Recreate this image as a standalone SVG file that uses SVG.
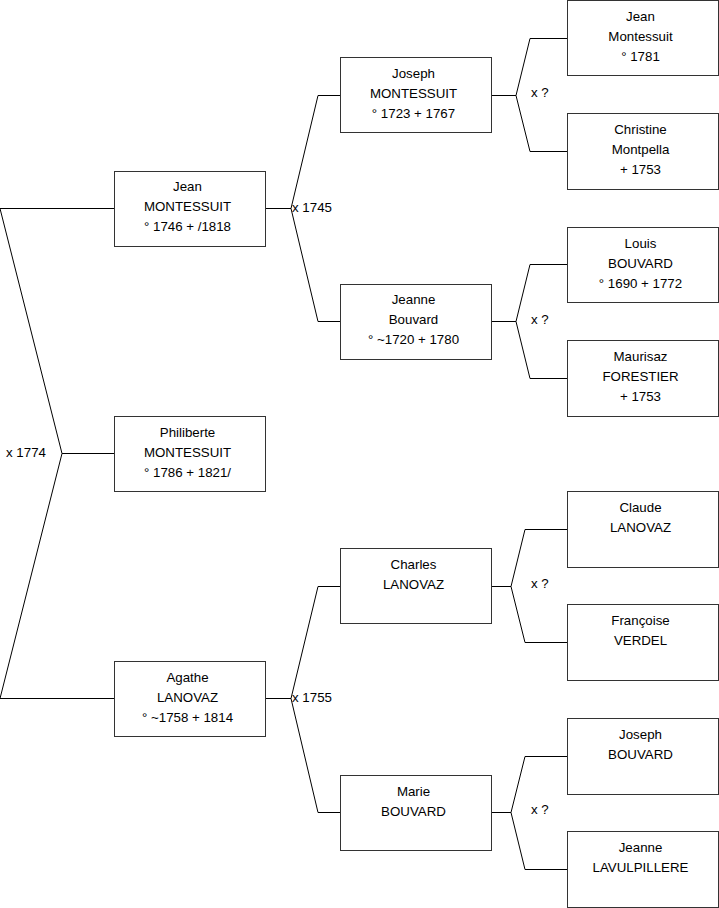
<svg xmlns="http://www.w3.org/2000/svg" width="719" height="908" viewBox="0 0 719 908">
<style>
.box{fill:#fff;stroke:#333;stroke-width:1}
.ln{fill:none;stroke:#000;stroke-width:1}
text{font-family:"Liberation Sans",Arial,sans-serif;font-size:13.3px;fill:#000}
.c{text-anchor:middle}
</style>
<rect width="719" height="908" fill="#fff"/>
<g id="connectors">
<polyline class="ln" points="114,208.5 0,208.5 62,453.5 0,698.5 114,698.5"/>
<line class="ln" x1="62" y1="453.5" x2="114" y2="453.5"/>
<polyline class="ln" points="265,208.5 291,208.5"/>
<polyline class="ln" points="340,95.5 318,95.5 291,208.5 318,321.5 340,321.5"/>
<polyline class="ln" points="265,698.5 291,698.5"/>
<polyline class="ln" points="340,586.5 318,586.5 291,698.5 318,812.5 340,812.5"/>
<polyline class="ln" points="491,95.5 516,95.5"/>
<polyline class="ln" points="567,38.5 530,38.5 516,95.5 530,151.5 567,151.5"/>
<polyline class="ln" points="491,321.5 516,321.5"/>
<polyline class="ln" points="567,264.5 530,264.5 516,321.5 530,378.5 567,378.5"/>
<polyline class="ln" points="491,586.5 511,586.5"/>
<polyline class="ln" points="567,529.5 525,529.5 511,586.5 525,642.5 567,642.5"/>
<polyline class="ln" points="491,812.5 511,812.5"/>
<polyline class="ln" points="567,756.5 525,756.5 511,812.5 525,869.5 567,869.5"/>
<text x="6" y="457">x 1774</text>
<text x="292" y="212">x 1745</text>
<text x="292" y="702">x 1755</text>
<text x="531" y="97">x ?</text>
<text x="531" y="324">x ?</text>
<text x="531" y="588">x ?</text>
<text x="531" y="814">x ?</text>
</g>
<g id="n-jean">
<rect class="box" x="114.5" y="171.5" width="151" height="75"/>
<text class="c" x="187.5" y="191">Jean</text>
<text class="c" x="187.5" y="211">MONTESSUIT</text>
<text class="c" x="187.5" y="231">° 1746 + /1818</text>
</g>
<g id="n-philiberte">
<rect class="box" x="114.5" y="416.5" width="151" height="75"/>
<text class="c" x="187.5" y="437">Philiberte</text>
<text class="c" x="187.5" y="457">MONTESSUIT</text>
<text class="c" x="187.5" y="477">° 1786 + 1821/</text>
</g>
<g id="n-agathe">
<rect class="box" x="114.5" y="661.5" width="151" height="75"/>
<text class="c" x="187.5" y="682">Agathe</text>
<text class="c" x="187.5" y="702">LANOVAZ</text>
<text class="c" x="187.5" y="722">° ~1758 + 1814</text>
</g>
<g id="n-joseph-m">
<rect class="box" x="340.5" y="57.5" width="151" height="75"/>
<text class="c" x="413.5" y="78">Joseph</text>
<text class="c" x="413.5" y="98">MONTESSUIT</text>
<text class="c" x="413.5" y="118">° 1723 + 1767</text>
</g>
<g id="n-jeanne-b">
<rect class="box" x="340.5" y="284.5" width="151" height="75"/>
<text class="c" x="413.5" y="304">Jeanne</text>
<text class="c" x="413.5" y="324">Bouvard</text>
<text class="c" x="413.5" y="344">° ~1720 + 1780</text>
</g>
<g id="n-charles">
<rect class="box" x="340.5" y="548.5" width="151" height="75"/>
<text class="c" x="413.5" y="569">Charles</text>
<text class="c" x="413.5" y="589">LANOVAZ</text>
</g>
<g id="n-marie">
<rect class="box" x="340.5" y="775.5" width="151" height="75"/>
<text class="c" x="413.5" y="796">Marie</text>
<text class="c" x="413.5" y="816">BOUVARD</text>
</g>
<g id="n-jean-m">
<rect class="box" x="567.5" y="0.5" width="151" height="75"/>
<text class="c" x="640.5" y="21">Jean</text>
<text class="c" x="640.5" y="41">Montessuit</text>
<text class="c" x="640.5" y="61">° 1781</text>
</g>
<g id="n-christine">
<rect class="box" x="567.5" y="113.5" width="151" height="76"/>
<text class="c" x="640.5" y="134">Christine</text>
<text class="c" x="640.5" y="154">Montpella</text>
<text class="c" x="640.5" y="174">+ 1753</text>
</g>
<g id="n-louis">
<rect class="box" x="567.5" y="227.5" width="151" height="75"/>
<text class="c" x="640.5" y="248">Louis</text>
<text class="c" x="640.5" y="268">BOUVARD</text>
<text class="c" x="640.5" y="288">° 1690 + 1772</text>
</g>
<g id="n-maurisaz">
<rect class="box" x="567.5" y="340.5" width="151" height="76"/>
<text class="c" x="640.5" y="361">Maurisaz</text>
<text class="c" x="640.5" y="381">FORESTIER</text>
<text class="c" x="640.5" y="401">+ 1753</text>
</g>
<g id="n-claude">
<rect class="box" x="567.5" y="491.5" width="151" height="76"/>
<text class="c" x="640.5" y="512">Claude</text>
<text class="c" x="640.5" y="532">LANOVAZ</text>
</g>
<g id="n-francoise">
<rect class="box" x="567.5" y="604.5" width="151" height="76"/>
<text class="c" x="640.5" y="625">Françoise</text>
<text class="c" x="640.5" y="645">VERDEL</text>
</g>
<g id="n-joseph-b">
<rect class="box" x="567.5" y="718.5" width="151" height="76"/>
<text class="c" x="640.5" y="739">Joseph</text>
<text class="c" x="640.5" y="759">BOUVARD</text>
</g>
<g id="n-jeanne-l">
<rect class="box" x="567.5" y="831.5" width="151" height="76"/>
<text class="c" x="640.5" y="852">Jeanne</text>
<text class="c" x="640.5" y="872">LAVULPILLERE</text>
</g>
</svg>
